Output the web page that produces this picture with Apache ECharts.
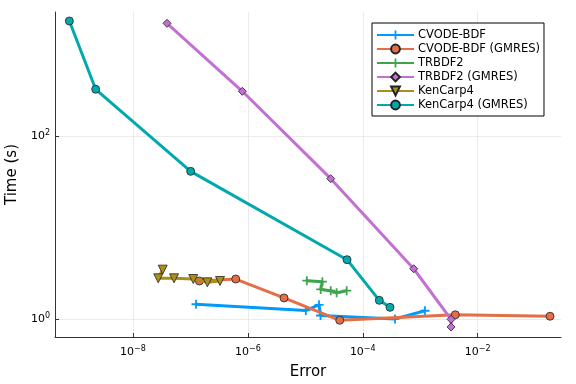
<!DOCTYPE html>
<html><head><meta charset="utf-8">
<script src="https://cdn.jsdelivr.net/npm/echarts@6/dist/echarts.min.js"></script>
<style>html,body{margin:0;padding:0;background:#fff}#c{width:576px;height:384px}</style>
</head><body><div id="c"></div>
<script>
// Error (x) and Time in seconds (y), one pair of arrays per series
const cvodeErr  = [1.25e-7, 1.02e-5, 1.73e-5, 1.84e-5, 3.64e-4, 1.21e-3];
const cvodeTime = [1.46, 1.25, 1.44, 1.10, 1.01, 1.24];
const cvodeGErr  = [1.43e-7, 6.14e-7, 4.26e-6, 3.97e-5, 4.08e-3, 0.182];
const cvodeGTime = [2.62, 2.75, 1.71, 0.975, 1.12, 1.08];
const trErr  = [1.06e-5, 1.98e-5, 1.85e-5, 2.77e-5, 3.51e-5, 5.25e-5];
const trTime = [2.64, 2.57, 2.12, 2.05, 1.95, 2.05];
const trGErr  = [3.91e-8, 8.0e-7, 2.77e-5, 7.71e-4, 3.44e-3, 3.44e-3];
const trGTime = [1694, 307, 34.2, 3.56, 1.0, 0.824];
const kcErr  = [3.29e-8, 2.75e-8, 5.18e-8, 1.12e-7, 1.97e-7, 3.27e-7];
const kcTime = [3.48, 2.80, 2.80, 2.75, 2.53, 2.62];
const kcGErr  = [7.8e-10, 2.24e-9, 1.01e-7, 5.32e-5, 1.94e-4, 2.98e-4];
const kcGTime = [1795, 323, 41.1, 4.47, 1.61, 1.35];
const seriesNames = ['CVODE-BDF','CVODE-BDF (GMRES)','TRBDF2','TRBDF2 (GMRES)','KenCarp4','KenCarp4 (GMRES)'];
const xTickExps = [-8, -6, -4, -2];
const yTickExps = [0, 2];
const xRange = [-9.358, -0.549];
const yRange = [-0.193, 3.352];

const colors = ['#009AFA','#E26F46','#3EA44E','#C271D2','#AC8E18','#00A9AD'];
const plus = 'path://M-1,-5H1V-1H5V1H1V5H-1V1H-5V-1H-1Z';
const FONT = 'DejaVu Sans';
function pts(xs, ys){ return xs.map((v,i)=>[Math.log10(v), Math.log10(ys[i])]); }
function supLabel(v){ const e = Math.round(v); return '{b|10}{s|' + (e<0 ? '\u2212'+(-e) : e) + '}'; }
const rich = { b:{fontSize:11, fontFamily:FONT, color:'#000'}, s:{fontSize:8, fontFamily:FONT, color:'#000', padding:[0,0,7,0]} };

const defs = [
  [cvodeErr, cvodeTime, plus, 0, 9],
  [cvodeGErr, cvodeGTime, 'circle', 0, 8],
  [trErr, trTime, plus, 0, 9],
  [trGErr, trGTime, 'diamond', 0, 8],
  [kcErr, kcTime, 'triangle', 180, 9],
  [kcGErr, kcGTime, 'circle', 0, 8]
];
const series = defs.map((d,i)=>({
  name: seriesNames[i], type:'line', data: pts(d[0], d[1]),
  symbol: d[2], symbolRotate: d[3], symbolSize: d[4], showAllSymbol:true,
  lineStyle:{color:colors[i], width:3},
  itemStyle:{color:colors[i], borderColor: d[2]===plus ? colors[i] : '#222', borderWidth: d[2]===plus ? 0 : 0.8},
  emphasis:{disabled:true}, animation:false, z: 2+i
}));

const chart = echarts.init(document.getElementById('c'), null, {renderer:'canvas'});
chart.setOption({
  animation:false,
  grid:{left:55, right:15, top:12, bottom:47, containLabel:false, outerBoundsMode:'none'},
  xAxis:{type:'value', min:xRange[0], max:xRange[1],
    name:'Error', nameLocation:'middle', nameGap:28, nameTextStyle:{fontSize:15, fontFamily:FONT, color:'#000'},
    axisLine:{show:true, onZero:false, lineStyle:{color:'#333', width:1}},
    axisTick:{show:true, inside:true, length:4, lineStyle:{color:'#333'}, customValues:xTickExps},
    axisLabel:{customValues:xTickExps, formatter:supLabel, rich:rich, margin:8},
    splitLine:{show:true, lineStyle:{color:'#e6e6e6', width:0.8}}},
  yAxis:{type:'value', min:yRange[0], max:yRange[1],
    name:'Time (s)', nameLocation:'middle', nameGap:35, nameTextStyle:{fontSize:15, fontFamily:FONT, color:'#000'},
    axisLine:{show:true, onZero:false, lineStyle:{color:'#333', width:1}},
    axisTick:{show:true, inside:true, length:4, lineStyle:{color:'#333'}, customValues:yTickExps},
    axisLabel:{customValues:yTickExps, formatter:supLabel, rich:rich, margin:5},
    splitLine:{show:true, lineStyle:{color:'#e6e6e6', width:0.8}}},
  legend:{data:seriesNames, orient:'vertical', left:372, top:23, width:172,
    itemWidth:37, itemHeight:11, itemGap:2, padding:[6,4,5,4],
    borderColor:'#000', borderWidth:1, backgroundColor:'#fff',
    textStyle:{fontSize:11.5, fontFamily:FONT, color:'#000', padding:[0,0,0,-1]}},
  series: series
});
</script></body></html>
